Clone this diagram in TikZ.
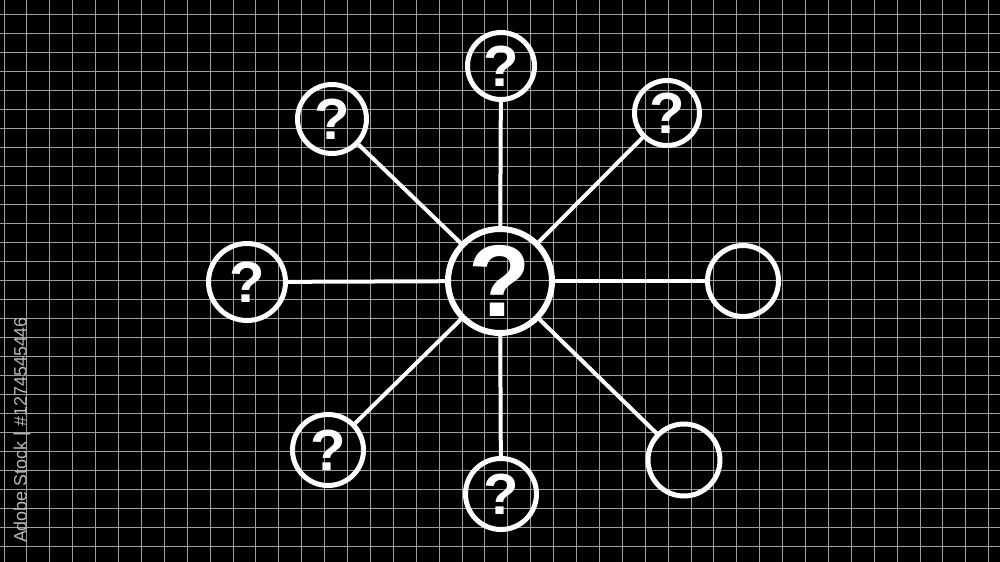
\documentclass[tikz,border=0pt]{standalone}
\usepackage{fontspec}
\setmainfont{Liberation Sans}
\usepackage{tikz}
\tikzstyle{hub}=[circle,draw=white,line width=0.6mm,minimum size=10.4mm,inner sep=0pt,text=white,font=\bfseries\fontsize{29}{30}\selectfont]
\tikzstyle{leaf}=[circle,draw=white,line width=0.5mm,inner sep=0pt,text=white,font=\bfseries\fontsize{16.5}{18}\selectfont]
\tikzstyle{spoke}=[white,line width=0.4mm]
\tikzstyle{gridline}=[white!62!black,line width=0.1mm]
\tikzstyle{stockmark}=[white!72!black,font=\fontsize{5.1}{6}\selectfont,inner sep=0pt]

\begin{document}
\begin{tikzpicture}[x=0.1mm,y=-0.1mm]
  \fill[black] (0,0) rectangle (1000,562);
  \useasboundingbox (0,0) rectangle (1000,562);
  % grid
  \foreach \i in {0,...,43}
    \draw[gridline] (4+22.9*\i,0) -- (4+22.9*\i,562);
  \foreach \j in {0,...,28}
    \draw[gridline] (0,14+19*\j) -- (1000,14+19*\j);
  % hub and leaves
  \node[hub] (hub) at (500,281) {?};
  \node[leaf,minimum size=6.7mm] (qtop) at (501,66) {?};
  \node[leaf,minimum size=6.9mm] (qtl) at (332,119) {?};
  \node[leaf,minimum size=6.5mm] (qtr) at (667,113) {?};
  \node[leaf,minimum size=7.7mm] (qleft) at (247,282) {?};
  \node[leaf,minimum size=7.1mm] (qbl) at (328,450) {?};
  \node[leaf,minimum size=7.1mm] (qbot) at (501,494) {?};
  \node[leaf,minimum size=7.1mm] (eright) at (743,281) {};
  \node[leaf,minimum size=7.2mm] (ebr) at (684,460) {};
  \foreach \n in {qtop,qtl,qtr,qleft,qbl,qbot,eright,ebr}
    \draw[spoke] (hub) -- (\n);
  \node[stockmark,rotate=90] (stockid) at (22,430) {Adobe Stock | \#1274545446};
\end{tikzpicture}
\end{document}
